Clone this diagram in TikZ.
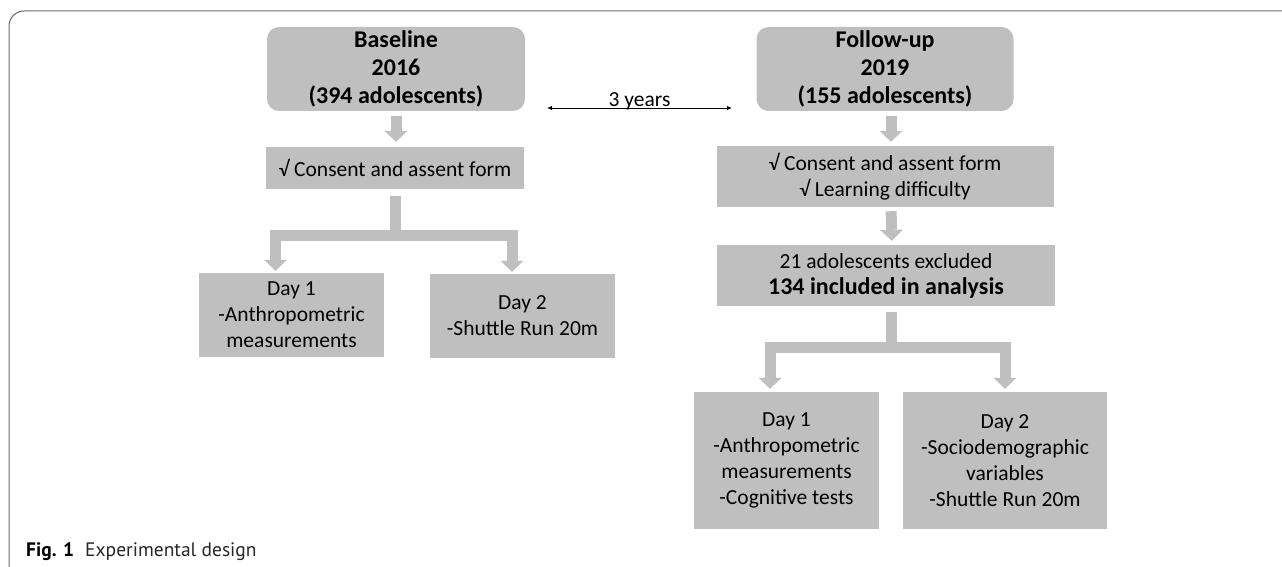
\documentclass[tikz,border=0pt]{standalone}
\usepackage{fontspec}
\setmainfont{Carlito}
\newfontfamily\capfont{PT Sans}
\usetikzlibrary{arrows.meta}
\definecolor{boxgray}{RGB}{191,191,191}
\definecolor{framegray}{RGB}{105,105,105}

\begin{document}
\begin{tikzpicture}[x=1pt,y=-1pt,
  hdr/.style={fill=boxgray,rounded corners=12pt,minimum width=258pt,minimum height=84pt,
    align=center,inner sep=0pt,font=\fontsize{24}{28}\selectfont\bfseries},
  box/.style={fill=boxgray,align=center,inner sep=0pt,font=\fontsize{21.5}{26}\selectfont},
  fat/.style={draw=boxgray,line width=11pt},
  fatarrow/.style={fat,-{Triangle[width=23pt,length=11pt,line width=0pt]}}]
\useasboundingbox (0,0) rectangle (1282,567);
\draw[framegray,line width=1pt,rounded corners=15pt] (9,580) -- (9,11) -- (1295,11);

% baseline 2016
\node[hdr] (base) at (396,69) {Baseline\\2016\\(394 adolescents)};
\node[box,minimum width=258pt,minimum height=42pt] (cons1) at (395,168) {√ Consent and assent form};
\node[box,minimum width=185pt,minimum height=84pt] (d1a) at (291.5,315) {Day 1\\-Anthropometric\\measurements};
\node[box,minimum width=185pt,minimum height=84pt] (d2a) at (522.5,316) {Day 2\\-Shuttle Run 20m};

% follow-up 2019
\node[hdr,minimum width=257pt] (foll) at (885,69) {Follow-up\\2019\\(155 adolescents)};
\node[box,minimum width=337pt,minimum height=61pt] (cons2) at (885,176.5) {√ Consent and assent form\\√ Learning difficulty};
\node[box,minimum width=338pt,minimum height=61pt] (excl) at (886,275.5) {21 adolescents excluded\\{\fontsize{24}{26}\selectfont\bfseries 134 included in analysis}};
\node[box,minimum width=185pt,minimum height=137pt] (d1b) at (786.5,460.5) {Day 1\\-Anthropometric\\measurements\\-Cognitive tests};
\node[box,minimum width=204pt,minimum height=137pt] (d2b) at (1005,460.5) {Day 2\\-Sociodemographic\\variables\\-Shuttle Run 20m};

% arrows
\draw[fatarrow,shorten <=5pt,shorten >=5pt] (base.south) -- (base.south |- cons1.north);
\draw[fat,shorten <=7pt] (cons1.south) -- ++(0,46) coordinate (j1);
\draw[fatarrow,shorten >=2pt] (j1) -| ([xshift=-16pt]d1a.north);
\draw[fatarrow,shorten >=2pt] (j1) -| ([xshift=-10.5pt]d2a.north);

\draw[fatarrow,shorten <=5pt,shorten >=4pt] ([xshift=6pt]foll.south) -- ([xshift=6pt]cons2.north);
\draw[fatarrow,shorten <=4pt,shorten >=4pt] ([xshift=6pt]cons2.south) -- ([xshift=6pt]excl.north);
\draw[fat,shorten <=6pt] ([xshift=5pt]excl.south) -- ++(0,41.5) coordinate (j2);
\draw[fatarrow,shorten >=3pt] (j2) -| ([xshift=-16.5pt]d1b.north);
\draw[fatarrow,shorten >=3pt] (j2) -| (d2b.north);

% 3 years
\coordinate (ya) at (547,108);
\coordinate (yb) at (732,108);
\draw[{Latex[length=5pt,width=4.5pt]}-{Latex[length=5pt,width=4.5pt]},line width=0.9pt] (ya) -- node[anchor=base,inner sep=0pt,yshift=1.5pt,font=\fontsize{21.5}{26}\selectfont] (yrs) {3 years} (yb);

\node[anchor=base west,inner sep=0pt,font=\capfont\fontsize{19.5}{22}\selectfont] (cap) at (26,556) {\textbf{Fig. 1}\hspace{11pt}{\color{black!85}Experimental design}};
\end{tikzpicture}
\end{document}
